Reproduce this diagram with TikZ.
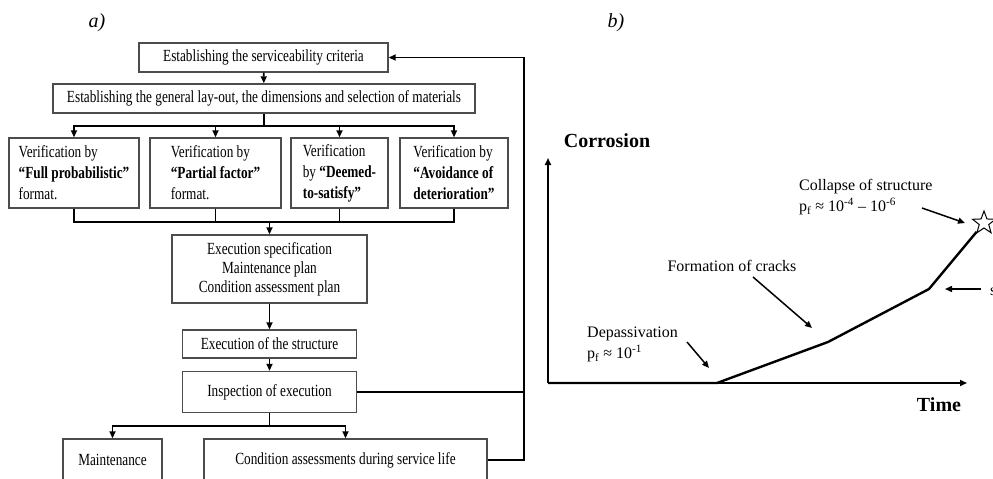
\documentclass[tikz,border=0pt]{standalone}
\usepackage{fontspec}
\setmainfont{Liberation Serif}
\newfontfamily\condfont{Liberation Serif}[FakeStretch=0.78]
\usetikzlibrary{arrows.meta,shapes.geometric}

\begin{document}
\begin{tikzpicture}[x=1pt,y=-1pt,>={Triangle[length=7pt,width=6pt]},
                    flow box/.style={draw=black!70,line width=1.4pt,inner sep=0pt,align=center,
                                     font=\condfont\fontsize{17}{19}\selectfont},
                    check box/.style={flow box,align=left,font=\condfont\fontsize{17}{21}\selectfont},
                    link/.style={line width=1.8pt},
                    axis line/.style={line width=1.8pt},
                    graph line/.style={line width=2.4pt,line join=round},
                    pointer/.style={->,line width=1.5pt},
                    note/.style={font=\fontsize{16}{21}\selectfont,align=left,inner sep=2pt},
                    axis label/.style={font=\bfseries\fontsize{20}{24}\selectfont},
                    panel label/.style={font=\itshape\fontsize{20}{24}\selectfont}]
  \useasboundingbox (0,0) rectangle (993,479);
  \clip (0,0) rectangle (993,479);

  % a) flow chart
  \node[panel label] (pa) at (97,23) {a)};
  \node[flow box,minimum width=249pt,minimum height=29pt] (crit) at (263.5,57.5) {Establishing the serviceability criteria};
  \node[flow box,minimum width=422pt,minimum height=29pt] (layout) at (264,98.5) {Establishing the general lay-out, the dimensions and selection of materials};
  \node[check box,minimum width=130pt,minimum height=70pt] (full) at (74,173) {Verification by\\\textbf{“Full probabilistic”}\\format.};
  \node[check box,minimum width=131pt,minimum height=70pt] (part) at (215.5,173) {Verification by\\\textbf{“Partial factor”}\\format.};
  \node[check box,minimum width=97pt,minimum height=70pt] (deem) at (339.5,173) {Verification\\by \textbf{“Deemed-}\\\textbf{to-satisfy”}};
  \node[check box,minimum width=108pt,minimum height=70pt] (avoid) at (454,173) {Verification by\\\textbf{“Avoidance of}\\\textbf{deterioration”}};
  \node[flow box,minimum width=195pt,minimum height=68pt] (spec) at (269.5,269) {Execution specification\\Maintenance plan\\Condition assessment plan};
  \node[flow box,minimum width=174pt,minimum height=28pt] (exec) at (269.5,344) {Execution of the structure};
  \node[flow box,minimum width=174pt,minimum height=41pt] (insp) at (269.5,392) {Inspection of execution};
  \node[flow box,minimum width=99pt,minimum height=42pt] (maint) at (112.5,460) {Maintenance};
  \node[flow box,minimum width=283pt,minimum height=42pt] (cond) at (345.5,460) {Condition assessments during service life};

  \coordinate (fork) at (264,126);
  \coordinate (join) at (269.5,222);
  \coordinate (split) at (269.5,426);
  \coordinate (ret) at (524,57.5);

  \draw[link,->] (crit) -- (layout);
  \draw[link] (layout) -- (fork);
  \foreach \b in {full,part,deem,avoid}
    \draw[link,->] (fork) -| (\b);
  \foreach \b in {full,part,deem,avoid}
    \draw[link] (\b) |- (join);
  \draw[link,->] (join) -- (spec);
  \draw[link,->] (spec) -- (exec);
  \draw[link,->] (exec) -- (insp);
  \draw[link] (insp) -- (split);
  \draw[link,->] (split) -| (maint);
  \draw[link,->] (split) -| (cond);
  \draw[link] (insp) -- (insp -| ret);
  \draw[link,->] (cond) -| (ret) -- (crit);

  % b) corrosion over time
  \node[panel label] (pb) at (616,23) {b)};
  \node[axis label] (corr) at (607,141) {Corrosion};
  \node[axis label] (time) at (939,405) {Time};
  \coordinate (orig) at (548,383);
  \coordinate (ytop) at (548,158);
  \coordinate (xend) at (967,383);
  \draw[axis line,->] (orig) -- (ytop);
  \draw[axis line,->] (orig) -- (xend);

  \coordinate (c1) at (717,383);
  \coordinate (c2) at (828,342);
  \coordinate (c3) at (929,289);
  \node[star,star points=5,star point ratio=2.4,draw,line width=1pt,minimum size=24pt,inner sep=0pt] (star) at (984,223) {};
  \draw[graph line] (orig) -- (c1) -- (c2) -- (c3) -- (star);

  \node[note,anchor=west] (depa) at (585,344.5) {Depassivation\\p\textsubscript{f} ≈ 10\textsuperscript{-1}};
  \node[note] (form) at (732,266) {Formation of cracks};
  \node[note,anchor=west] (coll) at (797,197.5) {Collapse of structure\\p\textsubscript{f} ≈ 10\textsuperscript{-4} – 10\textsuperscript{-6}};
  \node[note,anchor=west] (sfrag) at (988,292) {s};

  \coordinate (depa a) at (687,342);
  \coordinate (depa b) at (709,368);
  \coordinate (form a) at (753,277);
  \coordinate (form b) at (812,328);
  \coordinate (coll a) at (922,208);
  \coordinate (coll b) at (965,223);
  \coordinate (s a) at (981,289);
  \coordinate (s b) at (945,289);
  \draw[pointer] (depa a) -- (depa b);
  \draw[pointer] (form a) -- (form b);
  \draw[pointer] (coll a) -- (coll b);
  \draw[pointer] (s a) -- (s b);
\end{tikzpicture}
\end{document}
